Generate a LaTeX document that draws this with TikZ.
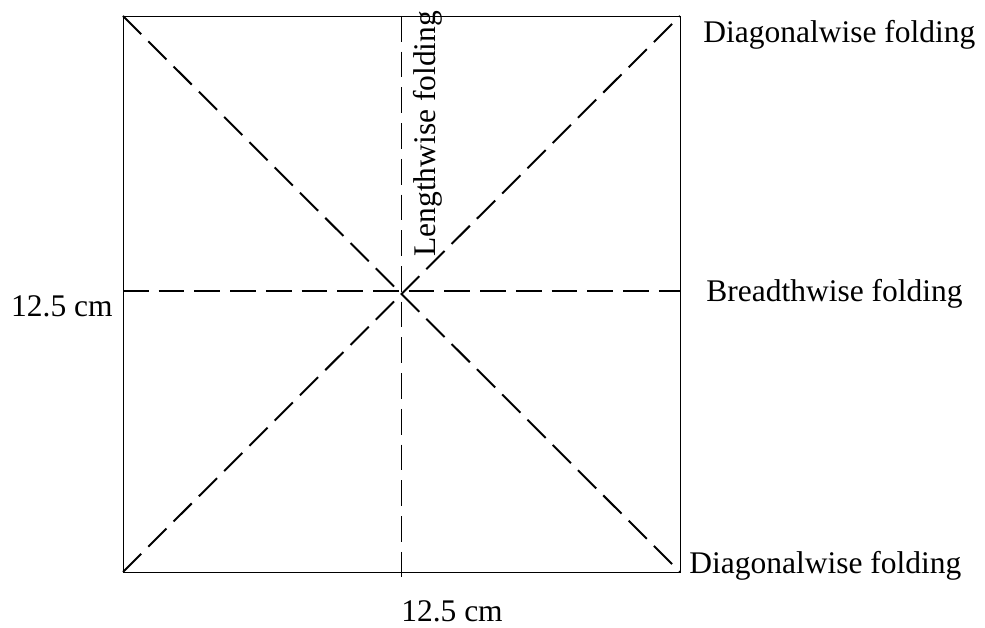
\documentclass[tikz,border=0pt]{standalone}
\usepackage{fontspec}
\setmainfont{Liberation Serif}
\usetikzlibrary{positioning}

\begin{document}
\begin{tikzpicture}[x=0.025cm,y=-0.025cm,
    fold/.style={line width=1.4pt,dash pattern=on 18.3pt off 7.1pt},
    lbl/.style={inner sep=0pt,font=\fontsize{22.4}{26}\selectfont}]
    \useasboundingbox (0,0) rectangle (985,628);
    % corners of the sheet
    \coordinate (tl) at (123,16);
    \coordinate (tr) at (680,16);
    \coordinate (br) at (680,572);
    \coordinate (bl) at (123,572);
    \coordinate (tm) at (401.5,16);
    \coordinate (bm) at (401.5,577);
    \coordinate (ml) at (123,291);
    \coordinate (mr) at (680,291);
    \draw[line width=0.7pt] (tl)--(tr)--(br)--(bl)--cycle;
    \draw[fold] (tl)--(br);
    \draw[fold] (bl)--(tr);
    \draw[fold] (tm)--(bm);
    \draw[fold] (ml)--(mr);
    % labels
    \node[lbl,anchor=west] (diagtop) at (703,35) {Diagonalwise folding};
    \node[lbl,anchor=west] (breadth) at (706,294) {Breadthwise folding};
    \node[lbl,anchor=west] (diagbot) at (689,566) {Diagonalwise folding};
    \node[lbl,anchor=east] (sidelen) at (113,306) {12.5 cm};
    \node[lbl] (botlen) at (452,611) {12.5 cm};
    \node[lbl,rotate=90,anchor=west] (length) at (428,257) {Lengthwise folding};
\end{tikzpicture}
\end{document}
